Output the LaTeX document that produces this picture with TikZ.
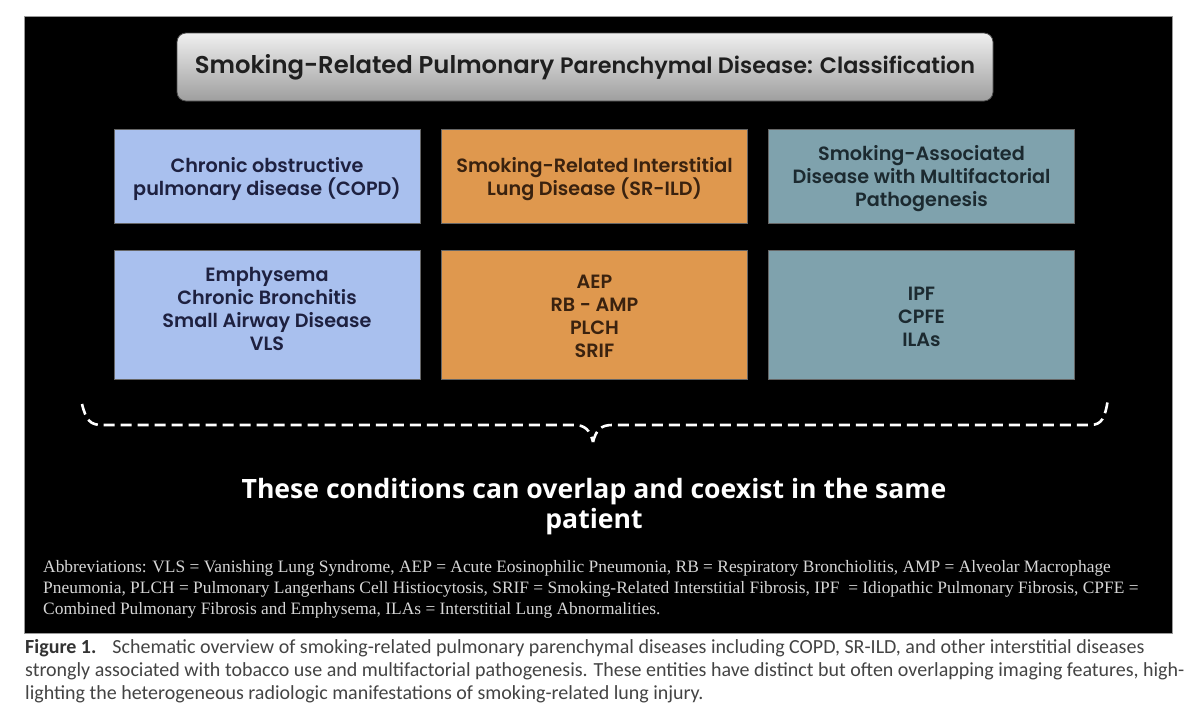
\documentclass[tikz,border=0pt]{standalone}
\usepackage{fontspec}
\setmainfont{Liberation Serif}
\newfontfamily\pop{Poppins SemiBold}
\newfontfamily\opensans{Open Sans}
\newfontfamily\capfont{Carlito}
\definecolor{copdblue}{HTML}{A9C0EE}
\definecolor{srorange}{HTML}{DF984E}
\definecolor{mfteal}{HTML}{7FA2AD}
\definecolor{navytext}{HTML}{1E2140}
\definecolor{browntext}{HTML}{3A220F}
\definecolor{tealtext}{HTML}{1C2A30}
\definecolor{abbrgrey}{HTML}{D6D6D6}
\definecolor{capgrey}{HTML}{444444}
\tikzset{
  catbox/.style={draw=black!60, line width=0.6pt, minimum width=306pt, minimum height=94pt, inner sep=0pt},
  itembox/.style={catbox, minimum height=129pt},
  boxtext/.style={align=center, inner sep=0pt, font=\pop\fontsize{19.2}{23}\selectfont},
  bracepath/.style={draw=white, line width=2.6pt, dash pattern=on 11pt off 6pt},
}
\begin{document}
\begin{tikzpicture}[x=1pt,y=-1pt]
\useasboundingbox (0,0) rectangle (1200,723);
\fill[white] (0,0) rectangle (1200,723);
\draw[fill=black, draw=black!40, line width=0.6pt] (24,16) rectangle (1172,633);
% title
\node[draw=black!70, line width=0.8pt, rounded corners=9pt, top color=white!94!black, bottom color=black!38,
  minimum width=816pt, minimum height=68pt, inner sep=0pt, font=\pop\fontsize{24.3}{28}\selectfont, text=black!88] (title) at (585,67)
  {Smoking-Related Pulmonary {\fontsize{22.3}{28}\selectfont Parenchymal Disease: Classification}};
% category boxes
\node[catbox, fill=copdblue] (copd) at (267,176) {};
\node[catbox, fill=srorange] (srild) at (594.5,176) {};
\node[catbox, fill=mfteal] (multi) at (921.5,176) {};
\node[boxtext, text=navytext] (copdt) at ([yshift=-3pt]copd.center) {Chronic obstructive\\pulmonary disease (COPD)};
\node[boxtext, text=browntext] (srildt) at ([yshift=-3pt]srild.center) {Smoking-Related Interstitial\\Lung Disease (SR-ILD)};
\node[boxtext, text=tealtext] (multit) at ([yshift=-3pt]multi.center) {Smoking-Associated\\Disease with Multifactorial\\Pathogenesis};
% item boxes
\node[itembox, fill=copdblue] (copdi) at (267,314.5) {};
\node[itembox, fill=srorange] (srildi) at (594.5,314.5) {};
\node[itembox, fill=mfteal] (multii) at (921.5,314.5) {};
\node[boxtext, text=navytext] (copdit) at ([yshift=6pt]copdi.center) {Emphysema\\Chronic Bronchitis\\Small Airway Disease\\VLS};
\node[boxtext, text=browntext] (srildit) at ([yshift=-2pt]srildi.center) {AEP\\RB - AMP\\PLCH\\SRIF};
\node[boxtext, text=tealtext] (multiit) at ([yshift=-2pt]multii.center) {IPF\\CPFE\\ILAs};
% brace
\coordinate (bl) at (82,404);
\coordinate (bm) at (593,442);
\coordinate (br) at (1108,399);
\draw[bracepath] (bl) .. controls (86,420) and (90,425) .. (102,425) -- (574,425)
  .. controls (585,425) and (590,430) .. (bm);
\draw[bracepath] (bm) .. controls (596,430) and (601,425) .. (612,425) -- (1090,425)
  .. controls (1102,425) and (1105,418) .. (br);
% conclusion
\node[align=center, text=white, font=\opensans\bfseries\fontsize{26.6}{30}\selectfont] (concl) at (594,507)
  {These conditions can overlap and coexist in the same\\patient};
% abbreviations
\node[anchor=north west, align=left, text=abbrgrey, inner sep=0pt, font=\fontsize{17.4}{21}\selectfont] (abbr) at (43,560)
  {Abbreviations: VLS = Vanishing Lung Syndrome, AEP = Acute Eosinophilic Pneumonia, RB = Respiratory Bronchiolitis, AMP = Alveolar Macrophage\\
   Pneumonia, PLCH = Pulmonary Langerhans Cell Histiocytosis, SRIF = Smoking-Related Interstitial Fibrosis, IPF \ = Idiopathic Pulmonary Fibrosis, CPFE =\\
   Combined Pulmonary Fibrosis and Emphysema, ILAs = Interstitial Lung Abnormalities.};
% caption
\node[anchor=north west, align=left, text=capgrey, inner sep=0pt, font=\capfont\fontsize{20}{23}\selectfont] (cap) at (25,639)
  {{\bfseries\color{black!80}Figure 1.}\hspace{16pt}Schematic overview of smoking-related pulmonary parenchymal diseases including COPD, SR-ILD, and other interstitial diseases\\
   strongly associated with tobacco use and multifactorial pathogenesis. These entities have distinct but often overlapping imaging features, high-\\
   lighting the heterogeneous radiologic manifestations of smoking-related lung injury.};
\end{tikzpicture}
\end{document}
